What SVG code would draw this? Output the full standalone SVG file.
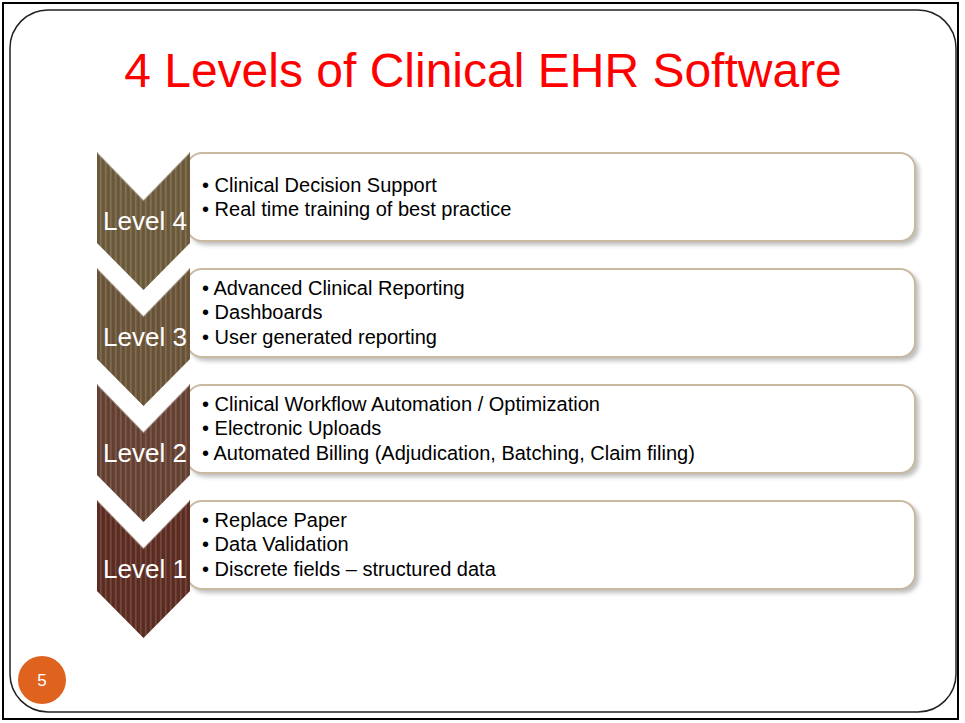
<svg xmlns="http://www.w3.org/2000/svg" width="965" height="723" viewBox="0 0 965 723">
<style>
.title{font-family:"Liberation Sans",Arial,sans-serif;font-size:48px;fill:#ff0000;text-anchor:middle}
.lvl{font-family:"Liberation Sans",Arial,sans-serif;font-size:26px;fill:#ffffff;text-anchor:middle}
.bul{font-family:"Liberation Sans",Arial,sans-serif;font-size:20px;fill:#000000}
.box{fill:#ffffff;stroke:#c8b9a0;stroke-width:2}
.shadow{fill:#8a8a8a;opacity:0.55;filter:url(#blur)}
.bevel{fill:none;stroke:#ffffff;stroke-opacity:0.35;stroke-width:2}
.pg{font-family:"Liberation Sans",Arial,sans-serif;font-size:17px;fill:#ffffff;text-anchor:middle}
</style>
<defs>
<filter id="blur" x="-10%" y="-10%" width="120%" height="130%"><feGaussianBlur stdDeviation="2"/></filter>
<pattern id="stripes" width="5" height="10" patternUnits="userSpaceOnUse">
<rect x="0" y="0" width="1.6" height="10" fill="#ffffff" fill-opacity="0.13"/>
<rect x="2.5" y="0" width="1" height="10" fill="#000000" fill-opacity="0.08"/>
</pattern>
</defs>
<rect x="3" y="3" width="955" height="716" fill="#ffffff" stroke="#000000" stroke-width="2"/>
<rect x="10" y="10" width="946" height="702" rx="38" ry="38" fill="#ffffff" stroke="#222222" stroke-width="1.5"/>
<text class="title" x="483" y="87">4 Levels of Clinical EHR Software</text>

<g id="level4">
<rect class="shadow" x="190" y="156" width="729" height="89" rx="15"/>
<rect class="box" x="187" y="153" width="728" height="88" rx="15"/>
<path d="M97,152 L143.5,200 L190,152 L190,243 L143.5,290 L97,243 Z" fill="#6e5c3c"/>
<path d="M97,152 L143.5,200 L190,152 L190,243 L143.5,290 L97,243 Z" fill="url(#stripes)"/>
<path class="bevel" d="M98,153 L143.5,200 L189,153"/>
<text class="lvl" x="145" y="230">Level 4</text>
<text class="bul" x="202" y="192">• Clinical Decision Support</text>
<text class="bul" x="202" y="216">• Real time training of best practice</text>
</g>

<g id="level3">
<rect class="shadow" x="190" y="272" width="729" height="89" rx="15"/>
<rect class="box" x="187" y="269" width="728" height="88" rx="15"/>
<path d="M97,268 L143.5,316 L190,268 L190,359 L143.5,406 L97,359 Z" fill="#6b5539"/>
<path d="M97,268 L143.5,316 L190,268 L190,359 L143.5,406 L97,359 Z" fill="url(#stripes)"/>
<path class="bevel" d="M98,269 L143.5,316 L189,269"/>
<text class="lvl" x="145" y="346">Level 3</text>
<text class="bul" x="202" y="295">• Advanced Clinical Reporting</text>
<text class="bul" x="202" y="319">• Dashboards</text>
<text class="bul" x="202" y="344">• User generated reporting</text>
</g>

<g id="level2">
<rect class="shadow" x="190" y="388" width="729" height="89" rx="15"/>
<rect class="box" x="187" y="385" width="728" height="88" rx="15"/>
<path d="M97,384 L143.5,432 L190,384 L190,475 L143.5,522 L97,475 Z" fill="#664232"/>
<path d="M97,384 L143.5,432 L190,384 L190,475 L143.5,522 L97,475 Z" fill="url(#stripes)"/>
<path class="bevel" d="M98,385 L143.5,432 L189,385"/>
<text class="lvl" x="145" y="462">Level 2</text>
<text class="bul" x="202" y="411">• Clinical Workflow Automation / Optimization</text>
<text class="bul" x="202" y="435">• Electronic Uploads</text>
<text class="bul" x="202" y="460">• Automated Billing (Adjudication, Batching, Claim filing)</text>
</g>

<g id="level1">
<rect class="shadow" x="190" y="504" width="729" height="89" rx="15"/>
<rect class="box" x="187" y="501" width="728" height="88" rx="15"/>
<path d="M97,500 L143.5,548 L190,500 L190,591 L143.5,638 L97,591 Z" fill="#5e2e22"/>
<path d="M97,500 L143.5,548 L190,500 L190,591 L143.5,638 L97,591 Z" fill="url(#stripes)"/>
<path class="bevel" d="M98,501 L143.5,548 L189,501"/>
<text class="lvl" x="145" y="578">Level 1</text>
<text class="bul" x="202" y="527">• Replace Paper</text>
<text class="bul" x="202" y="551">• Data Validation</text>
<text class="bul" x="202" y="576">• Discrete fields – structured data</text>
</g>

<g id="page">
<circle cx="42" cy="680" r="24" fill="#e0621f"/>
<text class="pg" x="42" y="686">5</text>
</g>
</svg>
